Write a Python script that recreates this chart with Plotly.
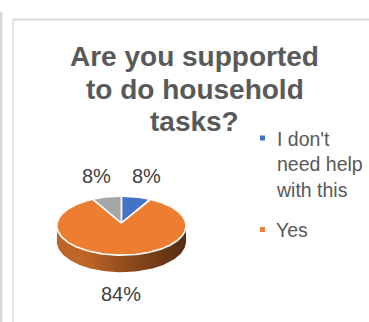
import numpy as np
import plotly.graph_objects as go

# Survey answers
categories = ["I don't need help with this", "Yes", "No"]
legend_labels = ["I don't<br>need help<br>with this", "Yes"]
values = [8, 84, 8]
colors = ["#4472C4", "#ED7D31", "#A5A5A5"]
title_lines = ["Are you supported", "to do household", "tasks?"]

W, H = 369, 322

# 3-D pie geometry (pixel units on hidden axes)
CX, CY = 121.4, 223.0
RX, RY = 64.4, 29.3
PERSP = 0.09
DEPTH = 15.5

# legend block placement
LEG_X, LEG_Y = 262.5, 138.0
LEG_STEP = [91.5]


def project(theta_deg, k=1.0, drop=0.0):
    """Angle measured clockwise from 12 o'clock -> screen point on tilted disc."""
    t = np.radians(theta_deg)
    u = np.sin(t)
    w = -np.cos(t)
    s = 1.0 / (1.0 - PERSP * w)
    return CX + RX * k * u * s, CY + RY * k * w * s + drop * s


def shade(hex_color, f):
    h = hex_color.lstrip("#")
    r, g, b = (int(h[i:i + 2], 16) for i in (0, 2, 4))
    return f"rgb({int(r * f)},{int(g * f)},{int(b * f)})"


total = sum(values)
bounds = []
start = 0.0
for v in values:
    end = start + 360.0 * v / total
    bounds.append((start, end))
    start = end

fig = go.Figure()

# side walls of the front half
for (a0, a1), col in zip(bounds, colors):
    lo, hi = max(a0, 90.0), min(a1, 270.0)
    if hi <= lo:
        continue
    th = np.linspace(lo, hi, 120)
    xt, yt = project(th)
    xb, yb = project(th[::-1], drop=DEPTH)
    fig.add_trace(go.Scatter(
        x=np.concatenate([xt, xb, xt[:1]]),
        y=np.concatenate([yt, yb, yt[:1]]),
        mode="lines", line=dict(width=0), fill="toself",
        fillgradient=dict(
            type="horizontal",
            colorscale=[[0, shade(col, 0.80)], [0.2, shade(col, 0.82)],
                        [0.55, shade(col, 0.60)], [1, shade(col, 0.36)]],
        ),
        showlegend=False, hoverinfo="skip",
    ))

# top faces
for (a0, a1), col, name in zip(bounds, colors, categories):
    th = np.linspace(a0, a1, max(8, int((a1 - a0) * 2)))
    xa, ya = project(th)
    fig.add_trace(go.Scatter(
        x=np.concatenate([[CX], xa, [CX]]),
        y=np.concatenate([[CY], ya, [CY]]),
        mode="lines", line=dict(color="white", width=1.6), fill="toself",
        fillcolor=col, name=name, showlegend=False, hoverinfo="skip",
    ))

annotations = []
shapes = []

# data labels
for (a0, a1), v in zip(bounds, values):
    mid = (a0 + a1) / 2
    w = -np.cos(np.radians(mid))
    lx, ly = project(mid, k=1.68)
    ly += (DEPTH + 5) * max(w, 0) - 3.5
    annotations.append(dict(
        x=lx, y=ly, xref="x", yref="y", text=f"{round(100 * v / total)}%",
        showarrow=False, xanchor="center", yanchor="middle",
        font=dict(family="Liberation Sans, Arial", size=20, color="#404040"),
    ))

# chart title
for i, line in enumerate(title_lines):
    annotations.append(dict(
        x=194.5, y=56.5 + 32.5 * i, xref="x", yref="y", text=f"<b>{line}</b>",
        showarrow=False, xanchor="center", yanchor="middle",
        font=dict(family="Liberation Sans, Arial", size=28, color="#595959"),
    ))

# legend: swatch + label per entry
ly = LEG_Y
for lab, col, step in zip(legend_labels, colors, LEG_STEP + [0]):
    shapes.append(dict(type="rect", xref="x", yref="y",
                       x0=LEG_X - 2.5, x1=LEG_X + 2.5, y0=ly - 2.5, y1=ly + 2.5,
                       fillcolor=col, line=dict(width=0)))
    annotations.append(dict(
        x=LEG_X + 11, y=ly - 12.5, xref="x", yref="y", text=lab,
        showarrow=False, xanchor="left", yanchor="top", align="left",
        font=dict(family="Liberation Sans, Arial", size=19.5, color="#595959"),
    ))
    ly += step

# chart border
frame = dict(color="#D9D9D9")
shapes += [
    dict(type="line", xref="x", yref="y", x0=1.2, x1=1.2, y0=12, y1=H,
         line=dict(width=2.5, **frame)),
    dict(type="line", xref="x", yref="y", x0=13, x1=13, y0=19.5, y1=H,
         line=dict(width=1.5, **frame)),
    dict(type="line", xref="x", yref="y", x0=13, x1=W, y0=19.5, y1=19.5,
         line=dict(width=2, **frame)),
]

fig.update_layout(
    width=W, height=H,
    margin=dict(l=0, r=0, t=0, b=0),
    paper_bgcolor="white", plot_bgcolor="white",
    xaxis=dict(range=[0, W], visible=False, fixedrange=True),
    yaxis=dict(range=[H, 0], visible=False, fixedrange=True),
    showlegend=False,
    annotations=annotations,
    shapes=shapes,
)

fig.write_html("out.html")
